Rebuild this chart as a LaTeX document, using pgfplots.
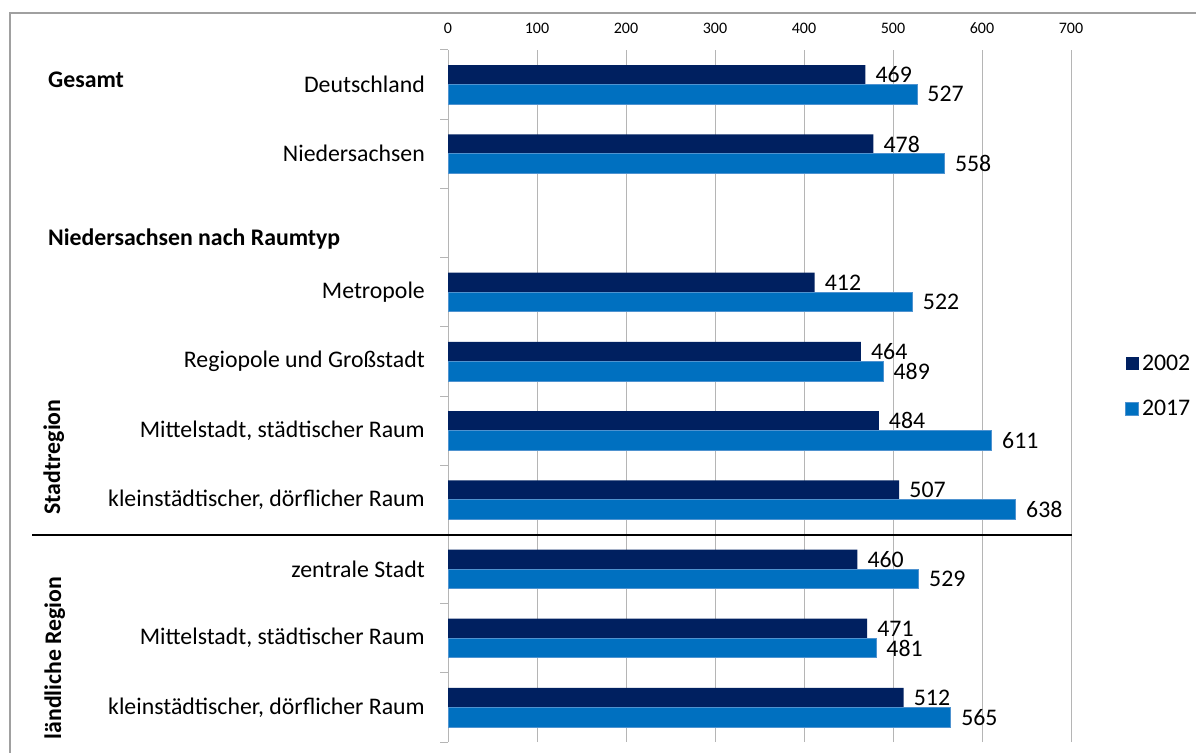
\documentclass[border=0pt]{standalone}
\usepackage{fontspec}
\setmainfont{Carlito}
\usepackage{pgfplots}
\usepackage{pgfplotstable}
\pgfplotsset{compat=1.18}

\definecolor{c2002}{HTML}{002060}
\definecolor{c2017}{HTML}{0070C0}
\definecolor{edge2017}{HTML}{4F93D0}
\definecolor{gridgray}{HTML}{B5B5B5}
\definecolor{framegray}{HTML}{A0A0A0}

\newcommand{\bigfont}{\fontsize{23.8}{28}\selectfont}
\newcommand{\tickfont}{\fontsize{16}{19}\selectfont}

\pgfplotsset{sqlegend/.style={legend image code/.code={\fill[##1] (0pt,-6.5pt) rectangle (13pt,6.5pt);}}}

% y = position from bottom (7 = empty slot for the heading)
\pgfplotstableread{
y v2002 v2017
9 469 527
8 478 558
6 412 522
5 464 489
4 484 611
3 507 638
2 460 529
1 471 481
0 512 565
}\datatable

\begin{document}
\begin{tikzpicture}
\useasboundingbox (0,0) rectangle (1196pt,-752pt);
\draw[framegray, line width=1.3pt] (10pt,-800pt) -- (10pt,-13pt) -- (1250pt,-13pt);

\begin{axis}[
  at={(448pt,-50pt)}, anchor=north west,
  scale only axis, width=623pt, height=692pt,
  xmin=0, xmax=700, ymin=-0.5, ymax=9.5,
  axis x line*=top, axis y line*=left,
  x axis line style={draw=none},
  y axis line style={gridgray, line width=1pt},
  xtick={0,100,...,700},
  xmajorgrids,
  major grid style={gridgray, line width=1pt},
  xticklabel style={font=\tickfont, anchor=south, inner sep=0pt, yshift=16pt},
  /pgf/number format/assume math mode=true,
  ytick={0,...,9},
  yticklabels={{kleinstädtischer, dörflicher Raum},{Mittelstadt, städtischer Raum},zentrale Stadt,{kleinstädtischer, dörflicher Raum},{Mittelstadt, städtischer Raum},Regiopole und Großstadt,Metropole,{},Niedersachsen,Deutschland},
  yticklabel style={font=\bigfont, anchor=east, inner sep=0pt, xshift=-23pt},
  minor ytick={-0.5,0.5,...,9.5},
  tick align=outside,
  major tick length=0pt,
  minor tick length=8pt,
  minor tick style={gridgray, line width=1pt},
  point meta=x,
  nodes near coords,
  nodes near coords style={font=\bigfont, anchor=west, inner sep=0pt, xshift=10pt, text=black},
  legend style={at={(1.0867,0.5145)}, anchor=west, draw=none, fill=none, inner sep=0pt,
    font=\bigfont, row sep=22pt, nodes={inner sep=3pt}},
  legend cell align=left,
]
\addplot[xbar, bar width=19.5pt, bar shift=9.75pt, fill=c2002, draw=none, sqlegend,
  every node near coord/.append style={yshift=9.75pt}]
  table[x=v2002, y=y] {\datatable};
\addplot[xbar, bar width=19.5pt, bar shift=-9.75pt, fill=c2017, draw=edge2017, line width=0.8pt, sqlegend,
  every node near coord/.append style={yshift=-9.75pt}]
  table[x=v2017, y=y] {\datatable};
\legend{2002,2017}
\end{axis}

\draw[black, line width=1.8pt] (32pt,-535pt) -- (1072pt,-535pt);
\node[anchor=base west, inner sep=0pt, font=\bigfont\bfseries] at (48pt,-88pt) {Gesamt};
\node[anchor=base west, inner sep=0pt, font=\bigfont\bfseries] at (48pt,-245pt) {Niedersachsen nach Raumtyp};
\node[anchor=base, rotate=90, inner sep=0pt, font=\bigfont\bfseries] at (60pt,-457pt) {Stadtregion};
\node[anchor=base, rotate=90, inner sep=0pt, font=\bigfont\bfseries] at (61pt,-658pt) {ländliche Region};
\end{tikzpicture}
\end{document}
